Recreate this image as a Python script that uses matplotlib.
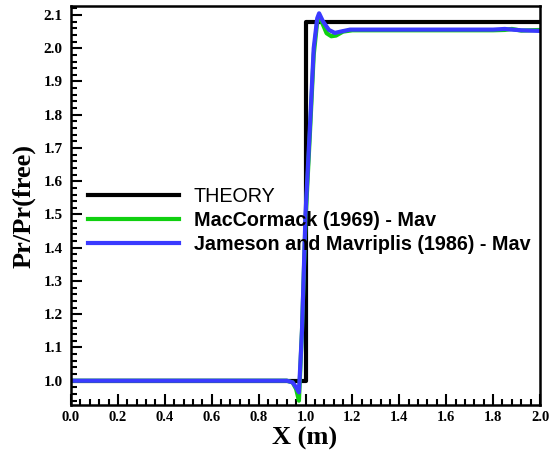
import numpy as np
import matplotlib.pyplot as plt
from matplotlib.ticker import MultipleLocator

# theory: step at x = 1.0
theory_x = [0.0, 1.0, 1.0, 2.0]
theory_y = [1.0, 1.0, 2.078, 2.078]

# MacCormack (1969) - Mav
mac_x = [0.0, 0.92, 0.945, 0.96, 0.972, 0.985, 1.0, 1.02, 1.035, 1.05, 1.06, 1.075, 1.09,
         1.11, 1.13, 1.16, 1.20, 1.40, 1.60, 1.80, 1.85, 1.88, 1.92, 1.96, 2.0]
mac_y = [1.0, 1.0, 0.995, 0.975, 0.94, 1.15, 1.48, 1.76, 1.98, 2.08, 2.095, 2.07, 2.045,
         2.036, 2.038, 2.05, 2.054, 2.054, 2.054, 2.054, 2.055, 2.058, 2.053, 2.054, 2.055]

# Jameson and Mavriplis (1986) - Mav
jam_x = [0.0, 0.92, 0.945, 0.96, 0.972, 0.985, 1.0, 1.02, 1.035, 1.05, 1.058, 1.075, 1.10,
         1.125, 1.15, 1.19, 1.40, 1.60, 1.80, 1.85, 1.88, 1.92, 1.96, 2.0]
jam_y = [1.0, 1.0, 0.995, 0.98, 0.965, 1.15, 1.50, 1.78, 2.00, 2.09, 2.105, 2.08, 2.055,
         2.046, 2.05, 2.056, 2.056, 2.056, 2.056, 2.058, 2.056, 2.054, 2.053, 2.052]

fig = plt.figure(figsize=(5.52, 4.53), dpi=100)
ax = fig.add_axes([71 / 552, 48 / 453, 469 / 552, 399 / 453])

ax.plot(theory_x, theory_y, color='black', lw=3, label='THEORY')
ax.plot(mac_x, mac_y, color='#10d010', lw=3, label='MacCormack (1969) - Mav')
ax.plot(jam_x, jam_y, color='#3a3aff', lw=3, label='Jameson and Mavriplis (1986) - Mav')

ax.set_xlim(0, 2.0)
ax.set_ylim(0.927, 2.127)
ax.xaxis.set_major_locator(MultipleLocator(0.2))
ax.xaxis.set_minor_locator(MultipleLocator(0.04))
ax.yaxis.set_major_locator(MultipleLocator(0.1))
ax.yaxis.set_minor_locator(MultipleLocator(0.02))
ax.tick_params(which='both', direction='in', top=False, right=False, width=1.5)
ax.tick_params(axis='x', pad=4)
ax.tick_params(axis='y', pad=6)
ax.tick_params(which='major', length=8)
ax.tick_params(which='minor', length=4)
for s in ax.spines.values():
    s.set_linewidth(1.8)

serif = {'family': 'Liberation Serif', 'weight': 'bold'}
xt = np.arange(0, 2.01, 0.2)
yt = np.arange(1.0, 2.11, 0.1)
ax.set_xticks(xt)
ax.set_xticklabels([f"{v:.1f}" for v in xt], fontdict=dict(serif, size=10.5))
ax.set_yticks(yt)
ax.set_yticklabels([f"{v:.1f}" for v in yt], fontdict=dict(serif, size=11))
ax.set_xlabel('X (m)', fontdict=dict(serif, size=19))
ax.set_ylabel('Pr/Pr(free)', fontdict=dict(serif, size=19))
ax.xaxis.set_label_coords(0.497, -0.055)
ax.yaxis.set_label_coords(-0.075, 0.5)

leg = ax.legend(loc='center left', bbox_to_anchor=(0.036, 0.462), frameon=False,
                prop={'family': 'Liberation Sans', 'weight': 'bold', 'size': 14.2},
                handlelength=4.6, handletextpad=0.76, labelspacing=0.25,
                borderpad=0, borderaxespad=0)
leg.get_texts()[0].set_fontweight('normal')

fig.savefig('out.png', dpi=100)
